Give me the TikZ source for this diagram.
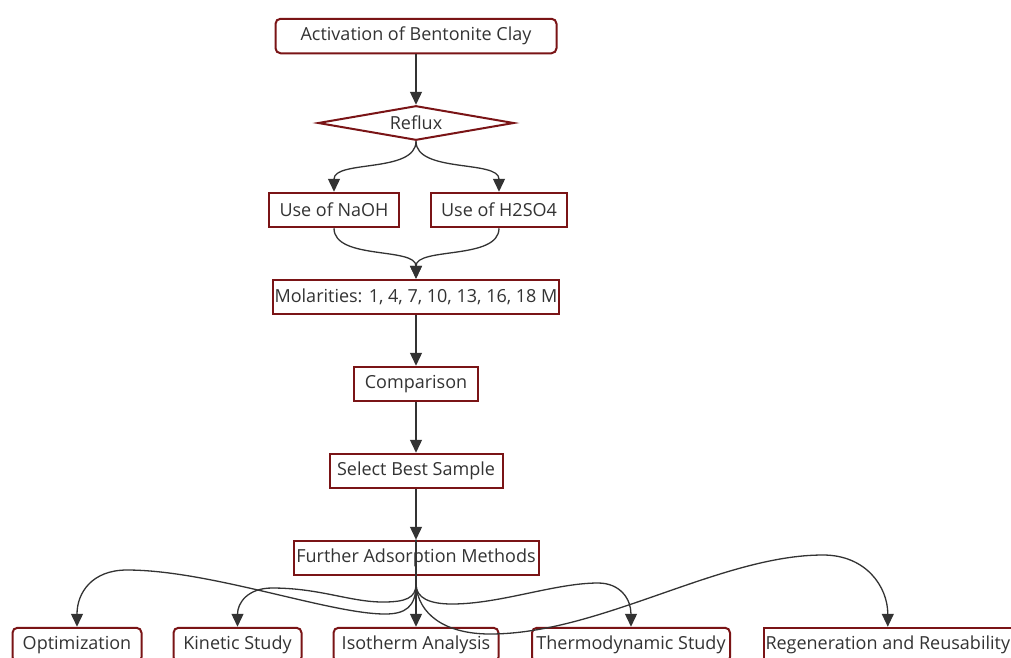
\documentclass[tikz,border=0pt]{standalone}
\usepackage{fontspec}
\setmainfont{Open Sans}
\usetikzlibrary{arrows.meta,positioning,shapes.geometric}
\definecolor{frame}{HTML}{7A1416}
\definecolor{ink}{HTML}{333333}
\tikzset{
  fc/proc/.style={draw=frame, line width=2pt, fill=white, rectangle, minimum height=34.5pt, inner sep=2pt, align=center, text=ink, font=\fontsize{18}{21}\selectfont},
  fc/start/.style={fc/proc, rounded corners=5pt},
  fc/decision/.style={fc/proc, diamond, aspect=5.6, inner sep=0pt, minimum width=196pt, minimum height=34.5pt},
  fc/line/.style={draw=ink, line width=1.3pt, -{Triangle[length=13pt,width=12pt]}}
}

\begin{document}
\begin{tikzpicture}[x=1pt, y=-1pt, node distance=50.5pt and 30pt]
  \useasboundingbox (0,0) rectangle (1011,657);
  \fill[white] (0,0) rectangle (1011,657);

  \node[fc/start, minimum width=281pt] (activ) at (416,36) {Activation of Bentonite Clay};
  \node[fc/decision, below=of activ] (reflux) {Reflux};
  \node[fc/proc, minimum width=130pt, below=of reflux, xshift=-82pt] (naoh) {Use of NaOH};
  \node[fc/proc, minimum width=136pt, below=of reflux, xshift=83pt] (hso) {Use of H2SO4};
  \coordinate (merge) at (reflux |- naoh.south);
  \node[fc/proc, minimum width=283pt, below=of merge] (molar) {Molarities: 1, 4, 7, 10, 13, 16, 18 M};
  \node[fc/proc, minimum width=124pt, below=of molar] (compar) {Comparison};
  \node[fc/proc, minimum width=173pt, below=of compar] (select) {Select Best Sample};
  \node[fc/proc, minimum width=245pt, below=of select] (further) {Further Adsorption Methods};

  % bottom row
  \node[fc/start, minimum width=165pt, below=of further] (iso) {Isotherm Analysis};
  \node[fc/start, minimum width=128pt, left=of iso] (kinetic) {Kinetic Study};
  \node[fc/start, minimum width=129pt, left=of kinetic] (optim) {Optimization};
  \node[fc/start, minimum width=198pt, right=31.5pt of iso] (thermo) {Thermodynamic Study};
  \node[fc/proc, minimum width=248pt, right=31.5pt of thermo] (regen) {Regeneration and Reusability};

  \draw[fc/line] (activ) -- (reflux);
  \draw[fc/line] (reflux.south) .. controls +(0,32) and +(0,-32) .. (naoh.north);
  \draw[fc/line] (reflux.south) .. controls +(0,32) and +(0,-32) .. (hso.north);
  \draw[fc/line] (naoh.south) .. controls +(0,32) and +(0,-32) .. (molar.north);
  \draw[fc/line] (hso.south) .. controls +(0,32) and +(0,-32) .. (molar.north);
  \draw[fc/line] (molar) -- (compar);
  \draw[fc/line] (compar) -- (select);
  \draw[fc/line] (select) -- (further);

  % fan out, the lines cross the box as in the original
  \draw[fc/line] (further.north) -- (iso.north);
  \draw[fc/line] (further.north) -- ([yshift=-8pt]further.south)
    .. controls +(0,23) and (405,614) .. (385,614)
    .. controls (330,614) and (210,570) .. (127,570)
    .. controls (92,570) and +(0,-34) .. (optim.north);
  \draw[fc/line] (further.north) -- ([yshift=-8pt]further.south)
    .. controls +(0,14) and (405,602) .. (383,602)
    .. controls (350,602) and (320,588) .. (272,588)
    .. controls (248,588) and +(0,-24) .. (kinetic.north);
  \draw[fc/line] (further.north) -- ([yshift=-8pt]further.south)
    .. controls +(0,14) and (430,604) .. (452,604)
    .. controls (500,604) and (555,583) .. (598,583)
    .. controls (620,583) and +(0,-28) .. (thermo.north);
  \draw[fc/line] (further.north) -- ([yshift=-8pt]further.south)
    .. controls +(2,30) and (445,634) .. (490,634)
    .. controls (600,634) and (720,555) .. (823,555)
    .. controls (866,555) and +(0,-40) .. (regen.north);
\end{tikzpicture}
\end{document}
